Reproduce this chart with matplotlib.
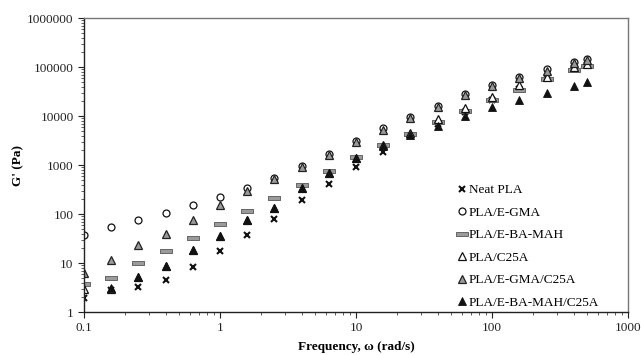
import numpy as np
import matplotlib
matplotlib.use("Agg")
import matplotlib.pyplot as plt

plt.rcParams['font.family'] = ['Liberation Serif', 'DejaVu Serif']

# angular frequency (rad/s)
freq = [0.1, 0.158, 0.251, 0.398, 0.631, 1.0, 1.58, 2.51, 3.98, 6.31,
        10.0, 15.8, 25.1, 39.8, 63.1, 100.0, 158.0, 251.0, 398.0, 500.0]

# storage modulus G' (Pa)
neat_pla = [1.9, 2.8, 3.2, 4.6, 8.2, 17.8, 37, 79, 193, 410,
            900, 1860, 4000, 7000, 12000, 21000, 36000, 60000, 95000, 110000]
pla_egma = [37, 54, 75, 103, 150, 219, 333, 540, 950, 1700,
            3150, 5700, 9800, 16200, 28000, 43000, 64000, 90000, 130000, 145000]
pla_ebamah = [3.7, 5.0, 9.8, 17.6, 33, 62, 116, 215, 390, 760,
              1450, 2600, 4300, 7600, 12800, 21000, 34000, 56000, 87000, 105000]
pla_c25a = [2.95, 3.0, 5.2, 8.6, 18.5, 36, 74, 135, 340, 700,
            1400, 2600, 4500, 8700, 14400, 25000, 43000, 63000, 100000, 115000]
pla_egma_c25a = [6.3, 11.5, 23, 40, 77, 150, 290, 510, 900, 1600,
                 3000, 5300, 9300, 15500, 27000, 41000, 60000, 85000, 122000, 138000]
pla_ebamah_c25a = [np.nan, 3.1, 5.3, 8.7, 18.5, 36, 75, 136, 333, 680,
                   1380, 2500, 4200, 6300, 10000, 15000, 21500, 30000, 42000, 50000]

labels = ["Neat PLA", "PLA/E-GMA", "PLA/E-BA-MAH", "PLA/C25A",
          "PLA/E-GMA/C25A", "PLA/E-BA-MAH/C25A"]

dash = [(-1, -0.28), (1, -0.28), (1, 0.28), (-1, 0.28), (-1, -0.28)]

fig = plt.figure(figsize=(6.41, 3.55), dpi=100)
ax = fig.add_axes([0.131, 0.121, 0.849, 0.828])

ax.plot(freq, neat_pla, ls='none', marker='x', ms=3.8, mew=1.5, color='#111111', label=labels[0])
ax.plot(freq, pla_egma, ls='none', marker='o', ms=5, mfc='white', mec='#111111', mew=0.9, label=labels[1])
ax.plot(freq, pla_ebamah, ls='none', marker=dash, ms=8, mfc='#9a9a9a', mec='#555555', mew=0.6, label=labels[2])
ax.plot(freq, pla_c25a, ls='none', marker='^', ms=5.5, mfc='white', mec='#111111', mew=0.9, label=labels[3])
ax.plot(freq, pla_egma_c25a, ls='none', marker='^', ms=5.5, mfc='#9a9a9a', mec='#222222', mew=0.9, label=labels[4])
ax.plot(freq, pla_ebamah_c25a, ls='none', marker='^', ms=5.5, mfc='#111111', mec='#111111', mew=0.6, label=labels[5])

ax.set_xscale('log')
ax.set_yscale('log')
ax.set_xlim(0.1, 1000)
ax.set_ylim(1, 1e6)

ax.set_xticks([0.1, 1, 10, 100, 1000])
ax.set_xticklabels(['0.1', '1', '10', '100', '1000'])
ax.set_yticks([1, 10, 100, 1000, 10000, 100000, 1000000])
ax.set_yticklabels(['1', '10', '100', '1000', '10000', '100000', '1000000'])
ax.tick_params(which='major', direction='out', length=4, width=0.8, labelsize=9.5, colors='#222222')
ax.tick_params(which='minor', direction='out', length=2.5, width=0.6, colors='#444444')

for side in ['left', 'bottom']:
    ax.spines[side].set_color('#222222')
    ax.spines[side].set_linewidth(1.0)
for side in ['top', 'right']:
    ax.spines[side].set_color('#777777')
    ax.spines[side].set_linewidth(1.0)

ax.set_xlabel('Frequency, ω (rad/s)', fontsize=9.5, fontweight='bold', labelpad=5)
ax.set_ylabel("G' (Pa)", fontsize=9.5, fontweight='bold', labelpad=2)

ax.legend(loc='lower right', bbox_to_anchor=(0.966, -0.025), frameon=False, fontsize=9.5,
          handletextpad=0.0, handlelength=1.0, labelspacing=0.78, borderpad=0.3)

fig.savefig('out.png', dpi=100)
